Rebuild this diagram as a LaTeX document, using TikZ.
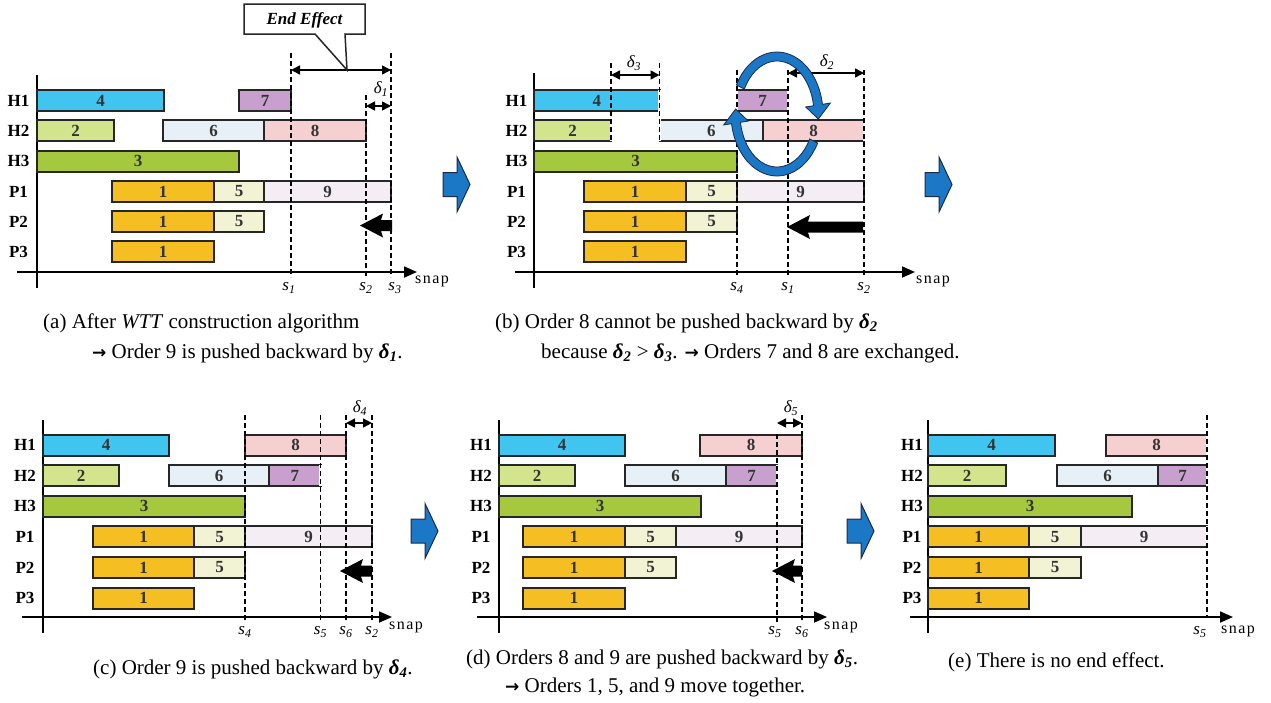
\documentclass[tikz,border=0pt]{standalone}
\usepackage{fontspec}
\setmainfont{Liberation Serif}
\newfontfamily\arrowfont{DejaVu Sans}
\usetikzlibrary{arrows.meta,calc}
\definecolor{cFour}{HTML}{40C4F0}
\definecolor{cSeven}{HTML}{C8A0CD}
\definecolor{cTwo}{HTML}{D2E48C}
\definecolor{cSix}{HTML}{E6F0F6}
\definecolor{cEight}{HTML}{F6D0D0}
\definecolor{cThree}{HTML}{A6C83E}
\definecolor{cOne}{HTML}{F5BE23}
\definecolor{cFive}{HTML}{F2F2D4}
\definecolor{cNine}{HTML}{F4EEF4}
\definecolor{cBlue}{HTML}{1A78C6}
\definecolor{cNavy}{HTML}{1C2A48}
\tikzset{
  gbar/.style={draw=black!85, line width=2pt, minimum height=21pt, inner sep=0pt,
    font=\bfseries\fontsize{17}{17}\selectfont, text=black!80},
  rowlab/.style={font=\bfseries\fontsize{17}{17}\selectfont, inner sep=0pt},
  slab/.style={font=\itshape\fontsize{17}{17}\selectfont, inner sep=0pt},
  snaplab/.style={font=\fontsize{16}{16}\selectfont, inner sep=0pt},
  dlab/.style={font=\itshape\fontsize{17}{17}\selectfont, inner sep=0pt},
  axisline/.style={line width=1.8pt, -{Triangle[length=13pt,width=11pt]}},
  yaxis/.style={line width=1.8pt},
  dashline/.style={line width=1.8pt, dash pattern=on 5pt off 3pt},
  edgegap/.style={white, line width=2.3pt},
  dimarrow/.style={line width=1.5pt, {Triangle[length=9pt,width=9pt]}-{Triangle[length=9pt,width=9pt]}},
  blockarrow/.style={fill=cBlue, draw=cNavy, line width=1pt, line join=miter},
  circarrow/.style={fill=cBlue, draw=cNavy, line width=0.8pt},
  captxt/.style={font=\fontsize{21}{21}\selectfont, inner sep=0pt, anchor=base west},
  callout/.style={fill=white, draw=black!85, line width=1.5pt, line join=miter}
}
\newcommand\gb[6]{\node[gbar, fill=#5, minimum width={(#3-#2)*1pt}] (#1) at ({(#2+#3)/2},#4) {#6};}
\newcommand\blu[2]{\draw[blockarrow] (#1,{#2-12}) -- ({#1+14},{#2-12}) -- ({#1+14},{#2-27.5}) -- ({#1+27},#2) -- ({#1+14},{#2+27.5}) -- ({#1+14},{#2+12}) -- (#1,{#2+12}) -- cycle;}
\newcommand\blk[3]{\fill[black] (#1,#3) -- ({#1+23},{#3-12}) -- ({#1+21},{#3-5.5}) -- (#2,{#3-5.5}) -- (#2,{#3+5.5}) -- ({#1+21},{#3+5.5}) -- ({#1+23},{#3+12}) -- cycle;}
\newcommand\svar[1]{\textit{s}\textsubscript{\textit{#1}}}
\newcommand\dvar[1]{\textit{δ}\textsubscript{\textit{#1}}}
\newcommand\dbold[1]{\textbf{\textit{δ\textsubscript{#1}}}}
\newcommand\rarr{{\arrowfont\bfseries\fontsize{17}{17}\selectfont →}}
\newcommand\snaptxt{s\kern1.5pt n\kern1.5pt a\kern1.5pt p}
\begin{document}
\begin{tikzpicture}[x=1pt,y=-1pt]
\useasboundingbox (0,0) rectangle (1271,702);

%% ================= panel (a) =================
\draw[yaxis] (37,75) -- (37,288);
\draw[axisline] (17,272) -- (417,272);
\node[snaplab] (asnap) at (432,281) {\snaptxt};
\foreach \n/\t/\y in {ah1/H1/100.5, ah2/H2/130.5, ah3/H3/161, ap1/P1/191.5, ap2/P2/221.5, ap3/P3/251.5}
  \node[rowlab] (\n) at (18.5,\y) {\t};
\gb{a4}{37}{164}{100.5}{cFour}{4}
\gb{a7}{239}{291}{100.5}{cSeven}{7}
\gb{a2}{37}{114}{130.5}{cTwo}{2}
\gb{a6}{163}{264}{130.5}{cSix}{6}
\gb{a8}{264}{366}{130.5}{cEight}{8}
\gb{a3}{37}{239}{161}{cThree}{3}
\gb{a1a}{112}{214}{191.5}{cOne}{1}
\gb{a5a}{214}{264}{191.5}{cFive}{5}
\gb{a9}{264}{391}{191.5}{cNine}{9}
\gb{a1b}{112}{214}{221.5}{cOne}{1}
\gb{a5b}{214}{264}{221.5}{cFive}{5}
\gb{a1c}{112}{214}{251.5}{cOne}{1}
\node[slab] (as1) at (289,288) {\svar{1}};
\node[slab] (as2) at (366,288) {\svar{2}};
\node[slab] (as3) at (395,288) {\svar{3}};
\draw[dashline] (291,53) -- (291,277);
\draw[dashline] (366,95) -- (366,277);
\draw[dashline] (391,53) -- (391,277);
\draw[dimarrow] (291,70) -- (391,70);
\draw[dimarrow] (366,106) -- (391,106);
\node[dlab] (ad1) at (381,89) {\dvar{1}};
\draw[callout] (244,4) -- (365,4) -- (365,34) -- (345,34) -- (347,70) -- (315,34) -- (244,34) -- cycle;
\node[font=\bfseries\itshape\fontsize{17}{17}\selectfont, inner sep=0pt] (endeff) at (304.5,20) {End Effect};
\blk{360}{392}{225.5}
\blu{443}{184.5}

%% ================= panel (b) =================
\draw[yaxis] (534,73) -- (534,288);
\draw[axisline] (515,272) -- (915,272);
\node[snaplab] (bsnap) at (933,281) {\snaptxt};
\foreach \n/\t/\y in {bh1/H1/100.5, bh2/H2/130.5, bh3/H3/161, bp1/P1/191.5, bp2/P2/221.5, bp3/P3/251.5}
  \node[rowlab] (\n) at (516.5,\y) {\t};
\gb{b4}{534}{659.5}{100.5}{cFour}{4}
\gb{b7}{737}{788}{100.5}{cSeven}{7}
\gb{b2}{534}{611}{130.5}{cTwo}{2}
\gb{b6}{659.5}{763}{130.5}{cSix}{6}
\gb{b8}{763}{864}{130.5}{cEight}{8}
\gb{b3}{534}{737}{161}{cThree}{3}
\gb{b1a}{584}{686}{191.5}{cOne}{1}
\gb{b5a}{686}{737}{191.5}{cFive}{5}
\gb{b9}{737}{864}{191.5}{cNine}{9}
\gb{b1b}{584}{686}{221.5}{cOne}{1}
\gb{b5b}{686}{737}{221.5}{cFive}{5}
\gb{b1c}{584}{686}{251.5}{cOne}{1}
\draw[edgegap] (611,120) -- (611,141);
\draw[edgegap] (659.5,90) -- (659.5,141);
\draw[edgegap] (737,90) -- (737,111);
\draw[edgegap] (788,90) -- (788,111);
\draw[edgegap] (864,120) -- (864,141);
\node[slab] (bs4) at (737,288) {\svar{4}};
\node[slab] (bs1) at (788,288) {\svar{1}};
\node[slab] (bs2) at (864,288) {\svar{2}};
\draw[dashline] (611,63) -- (611,141);
\draw[dashline] (659.5,63) -- (659.5,141);
\draw[dashline] (737,70) -- (737,277);
\draw[dashline] (788,70) -- (788,277);
\draw[dashline] (864,70) -- (864,277);
\draw[dimarrow] (611,75) -- (659.5,75);
\draw[dimarrow] (788,73) -- (864,73);
\node[dlab] (bd3) at (634,63) {\dvar{3}};
\node[dlab] (bd2) at (827,62) {\dvar{2}};
\blk{787}{863}{227}
\coordinate (rc) at (777,114);
\filldraw[circarrow] ($(rc)+(208:46 and 62)$) arc[start angle=208, end angle=351, x radius=46, y radius=62]
  -- ($(rc)+(351:54 and 70)$) -- ($(rc)+(5:41.5 and 57.5)$) -- ($(rc)+(351:29 and 45)$)
  -- ($(rc)+(351:37 and 53)$) arc[start angle=351, end angle=208, x radius=37, y radius=53] -- cycle;
\filldraw[circarrow] ($(rc)+(28:46 and 62)$) arc[start angle=28, end angle=171, x radius=46, y radius=62]
  -- ($(rc)+(171:54 and 70)$) -- ($(rc)+(185:41.5 and 57.5)$) -- ($(rc)+(171:29 and 45)$)
  -- ($(rc)+(171:37 and 53)$) arc[start angle=171, end angle=28, x radius=37, y radius=53] -- cycle;
\blu{925}{184.5}

%% ================= panel (c) =================
\draw[yaxis] (43,420) -- (43,633);
\draw[axisline] (22,617) -- (392,617);
\node[snaplab] (csnap) at (406,627) {\snaptxt};
\foreach \n/\t/\y in {ch1/H1/445, ch2/H2/475.6, ch3/H3/506.2, cp1/P1/536.8, cp2/P2/567.4, cp3/P3/598}
  \node[rowlab] (\n) at (25,\y) {\t};
\gb{c4}{43}{169}{445}{cFour}{4}
\gb{c8}{245}{346}{445}{cEight}{8}
\gb{c2}{43}{119}{475.6}{cTwo}{2}
\gb{c6}{169}{269}{475.6}{cSix}{6}
\gb{c7}{269}{320.5}{475.6}{cSeven}{7}
\gb{c3}{43}{245}{506.2}{cThree}{3}
\gb{c1a}{93}{194}{536.8}{cOne}{1}
\gb{c5a}{194}{245}{536.8}{cFive}{5}
\gb{c9}{245}{372}{536.8}{cNine}{9}
\gb{c1b}{93}{194}{567.4}{cOne}{1}
\gb{c5b}{194}{245}{567.4}{cFive}{5}
\gb{c1c}{93}{194}{598}{cOne}{1}
\draw[edgegap] (320.5,465) -- (320.5,486);
\node[slab] (cs4) at (245,632) {\svar{4}};
\node[slab] (cs5) at (320.5,632) {\svar{5}};
\node[slab] (cs6) at (346,632) {\svar{6}};
\node[slab] (cs2) at (372,632) {\svar{2}};
\draw[dashline] (245,415) -- (245,622);
\draw[dashline] (320.5,415) -- (320.5,622);
\draw[dashline] (346,415) -- (346,622);
\draw[dashline] (372,415) -- (372,622);
\draw[dimarrow] (346,423) -- (372,423);
\node[dlab] (cd4) at (360,408) {\dvar{4}};
\blk{340}{372}{571}
\blu{411}{531}

%% ================= panel (d) =================
\draw[yaxis] (499,420) -- (499,633);
\draw[axisline] (477,617) -- (827,617);
\node[snaplab] (dsnap) at (841,627) {\snaptxt};
\foreach \n/\t/\y in {dh1/H1/445, dh2/H2/475.6, dh3/H3/506.2, dp1/P1/536.8, dp2/P2/567.4, dp3/P3/598}
  \node[rowlab] (\n) at (481,\y) {\t};
\gb{d4}{499}{625}{445}{cFour}{4}
\gb{d8}{700}{802}{445}{cEight}{8}
\gb{d2}{499}{575}{475.6}{cTwo}{2}
\gb{d6}{625}{726}{475.6}{cSix}{6}
\gb{d7}{726}{777}{475.6}{cSeven}{7}
\gb{d3}{499}{701}{506.2}{cThree}{3}
\gb{d1a}{523}{625}{536.8}{cOne}{1}
\gb{d5a}{625}{676}{536.8}{cFive}{5}
\gb{d9}{676}{802}{536.8}{cNine}{9}
\gb{d1b}{523}{625}{567.4}{cOne}{1}
\gb{d5b}{625}{676}{567.4}{cFive}{5}
\gb{d1c}{523}{625}{598}{cOne}{1}
\draw[edgegap] (777,465) -- (777,486);
\node[slab] (ds5) at (775,632) {\svar{5}};
\node[slab] (ds6) at (802,632) {\svar{6}};
\draw[dashline] (777,434) -- (777,622);
\draw[dashline] (802,415) -- (802,622);
\draw[dimarrow] (777,423) -- (802,423);
\node[dlab] (dd5) at (791,408) {\dvar{5}};
\blk{772}{802}{571}
\blu{847}{531}

%% ================= panel (e) =================
\draw[yaxis] (928,420) -- (928,633);
\draw[axisline] (910,617) -- (1233,617);
\node[snaplab] (esnap) at (1238,631) {\snaptxt};
\foreach \n/\t/\y in {eh1/H1/445, eh2/H2/475.6, eh3/H3/506.2, ep1/P1/536.8, ep2/P2/567.4, ep3/P3/598}
  \node[rowlab] (\n) at (912,\y) {\t};
\gb{e4}{928}{1055}{445}{cFour}{4}
\gb{e8}{1106}{1207}{445}{cEight}{8}
\gb{e2}{928}{1006}{475.6}{cTwo}{2}
\gb{e6}{1057}{1158}{475.6}{cSix}{6}
\gb{e7}{1158}{1207}{475.6}{cSeven}{7}
\gb{e3}{928}{1132}{506.2}{cThree}{3}
\gb{e1a}{928}{1029}{536.8}{cOne}{1}
\gb{e5a}{1029}{1081}{536.8}{cFive}{5}
\gb{e9}{1081}{1207}{536.8}{cNine}{9}
\gb{e1b}{928}{1029}{567.4}{cOne}{1}
\gb{e5b}{1029}{1081}{567.4}{cFive}{5}
\gb{e1c}{928}{1029}{598}{cOne}{1}
\draw[edgegap] (1207,434) -- (1207,456);
\draw[edgegap] (1207,465) -- (1207,486);
\draw[edgegap] (1207,526) -- (1207,547);
\node[slab] (es5) at (1200,632) {\svar{5}};
\draw[dashline] (1207,415) -- (1207,617);

%% ================= captions =================
\node[captxt] (capa1) at (43,328) {(a) After \textit{WTT} construction algorithm};
\node[captxt] (capa2) at (92,358) {\rarr{} Order 9 is pushed backward by \dbold{1}.};
\node[captxt] (capb1) at (495,328) {(b) Order 8 cannot be pushed backward by \dbold{2}};
\node[captxt] (capb2) at (541,358) {because \dbold{2} > \dbold{3}. \rarr{} Orders 7 and 8 are exchanged.};
\node[captxt] (capc) at (93,674) {(c) Order 9 is pushed backward by \dbold{4}.};
\node[captxt] (capd1) at (466,664) {(d) Orders 8 and 9 are pushed backward by \dbold{5}.};
\node[captxt] (capd2) at (505,692) {\rarr{} Orders 1, 5, and 9 move together.};
\node[captxt] (cape) at (948,667) {(e) There is no end effect.};
\end{tikzpicture}
\end{document}
